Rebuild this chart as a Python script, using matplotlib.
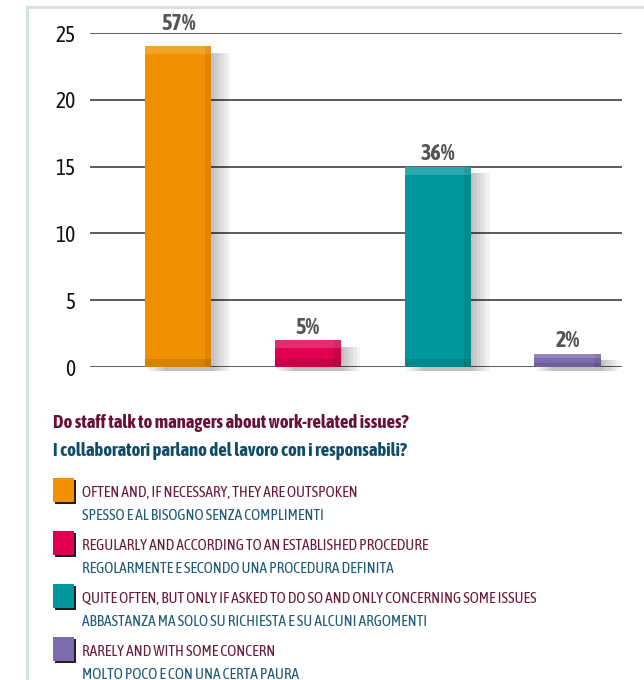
import matplotlib.pyplot as plt
from matplotlib.patches import Rectangle

# replies per answer
categories = ["often", "regularly", "quite often", "rarely"]
values = [24, 2, 15, 1]
percent_labels = ["57%", "5%", "36%", "2%"]
colors = ["#f29100", "#e0004f", "#00979c", "#7c6bad"]
yticks = [0, 5, 10, 15, 20, 25]

title_en = "Do staff talk to managers about work-related issues?"
title_it = "I collaboratori parlano del lavoro con i responsabili?"
legend_en = [
    "OFTEN AND, IF NECESSARY, THEY ARE OUTSPOKEN",
    "REGULARLY AND ACCORDING TO AN ESTABLISHED PROCEDURE",
    "QUITE OFTEN, BUT ONLY IF ASKED TO DO SO AND ONLY CONCERNING SOME ISSUES",
    "RARELY AND WITH SOME CONCERN",
]
legend_it = [
    "SPESSO E AL BISOGNO SENZA COMPLIMENTI",
    "REGOLARMENTE E SECONDO UNA PROCEDURA DEFINITA",
    "ABBASTANZA MA SOLO SU RICHIESTA E SU ALCUNI ARGOMENTI",
    "MOLTO POCO E CON UNA CERTA PAURA",
]

plt.rcParams['font.family'] = ['Asap Condensed', 'DejaVu Sans']

W, H = 644, 680
fig = plt.figure(figsize=(W / 100, H / 100), dpi=100)
fig.patch.set_facecolor("white")

def fx(px):
    return px / W

def fy(py):
    return 1 - py / H

# light frame (top and left edge)
fig.add_artist(plt.Line2D([fx(27), fx(27)], [fy(7), 0], transform=fig.transFigure,
                          color="#d8e2e0", linewidth=2.2))
fig.add_artist(plt.Line2D([fx(27), 1], [fy(7), fy(7)], transform=fig.transFigure,
                          color="#d8e2e0", linewidth=2.2))

ax = fig.add_axes([fx(90), fy(367), fx(622) - fx(90), fy(33) - fy(367)])
x = list(range(len(values)))
bw = 0.51

# soft shadow on the right of each bar
for i, v in enumerate(values):
    for k in range(6):
        off = 0.02 + 0.025 * k
        ax.bar(i + off, v - 0.2, width=bw, bottom=-0.3, color="#000000",
               alpha=0.045, zorder=1, linewidth=0, clip_on=False)

ax.bar(x, values, width=bw, color=colors, zorder=3, linewidth=0)
# lighter strip at the top and darker base of each bar
for i, v in enumerate(values):
    h = min(0.6, v * 0.3)
    ax.bar(i, h, width=bw, bottom=v - h, color="white", alpha=0.18, zorder=4, linewidth=0)
    ax.bar(i, h, width=bw, bottom=0, color="black", alpha=0.1, zorder=4, linewidth=0)
    ax.bar(i + bw * 0.45, v, width=bw * 0.1, color="black", alpha=0.08, zorder=4, linewidth=0)

# percentages above the bars; the tallest one sits on the top gridline
for i, v in enumerate(values):
    ypos = v + 0.1 if v + 2 < yticks[-1] else yticks[-1] - 0.15
    ax.text(i, ypos, percent_labels[i], ha="center", va="bottom",
            fontsize=16, fontweight="bold", color="#555555", zorder=5, clip_on=False)

ax.set_xlim(-0.68, 3.42)
ax.set_ylim(0, 25)
ax.set_yticks(yticks)
ax.set_xticks([])
ax.yaxis.grid(True, color="#5a5a5a", linewidth=1.4, zorder=0)
ax.set_axisbelow(True)
for s in ax.spines.values():
    s.set_visible(False)
ax.tick_params(axis="y", length=0, pad=10.5, labelsize=15.5, labelcolor="#111111")

# question
fig.text(fx(53), fy(423), title_en, fontsize=13.4, fontweight="bold", color="#6a0f37", va="center")
fig.text(fx(53), fy(451), title_it, fontsize=13.4, fontweight="bold", color="#0f4c68", va="center")

# legend rows
row_top = [478, 531, 584, 637]
for i in range(len(colors)):
    y0 = row_top[i]
    fig.patches.append(Rectangle((fx(55), fy(y0 + 26)), fx(21), fy(y0) - fy(y0 + 24),
                                 transform=fig.transFigure, facecolor="#2a1a22",
                                 edgecolor="none"))
    fig.patches.append(Rectangle((fx(53), fy(y0 + 24)), fx(21), fy(y0) - fy(y0 + 24),
                                 transform=fig.transFigure, facecolor=colors[i],
                                 edgecolor="none"))
    fig.text(fx(82), fy(y0 + 15), legend_en[i], fontsize=11.1, color="#6b1a3c", va="center")
    fig.text(fx(82), fy(y0 + 38), legend_it[i], fontsize=11.1, color="#1f5a74", va="center")

fig.savefig("out.png", dpi=100)
